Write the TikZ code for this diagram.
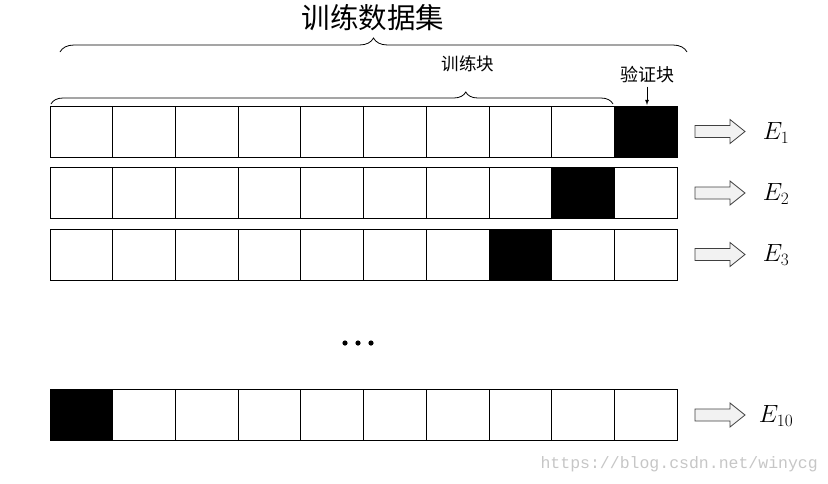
\documentclass[tikz,border=0pt]{standalone}
\usepackage{fontspec}
\usepackage{amsmath}
\usepackage{tikz}
\usetikzlibrary{decorations.pathreplacing}
\newfontfamily\cjk{Noto Sans CJK SC}
\newfontfamily\wmfont{Liberation Mono}

\tikzset{
  cell/.style={draw,line width=0.8pt,minimum width=62.7pt,minimum height=51pt,inner sep=0pt},
  test/.style={cell,fill=black},
  lab/.style={inner sep=0pt,font=\cjk},
  elab/.style={inner sep=0pt,font=\fontsize{25}{30}\selectfont},
  blockarr/.pic={
    \draw[fill=gray!10,draw=gray!50!black,line width=0.8pt]
      (0,-6) -- (35,-6) -- (35,-12) -- (50,0) -- (35,12) -- (35,6) -- (0,6) -- cycle;}
}

\begin{document}
\begin{tikzpicture}
  [x=1pt,y=1pt]
  \useasboundingbox (0,0) rectangle (828,-483);

  % the four folds, ten blocks each
  \foreach \r/\y/\t in {1/131.5/10, 2/193/9, 3/254.5/8, 4/415/1}{
    \foreach \i in {1,...,10}{
      \ifnum\i=\t
        \node[test] (c\r-\i) at ({50+31.35+62.7*(\i-1)},-\y) {};
      \else
        \node[cell] (c\r-\i) at ({50+31.35+62.7*(\i-1)},-\y) {};
      \fi
    }
    \pic at (695,-\y) {blockarr};
  }

  % labels on the right
  \node[elab] (e1) at (776,-133) {$E_1$};
  \node[elab] (e2) at (776,-194) {$E_2$};
  \node[elab] (e3) at (776,-255) {$E_3$};
  \node[elab] (e10) at (776,-416) {$E_{10}$};

  % braces and titles
  \draw[decorate,decoration={brace,amplitude=14pt},line width=0.8pt] (60,-52) -- (687,-52);
  \node[lab,font=\cjk\fontsize{28.5}{32}\selectfont] (all) at (373,-18) {训练数据集};
  \draw[decorate,decoration={brace,amplitude=12pt,aspect=0.738},line width=0.8pt] (51,-104) -- (613,-104);
  \node[lab,font=\cjk\fontsize{17.5}{20}\selectfont] (train) at (468,-64) {训练块};
  \node[lab,font=\cjk\fontsize{18}{20}\selectfont] (val) at (647,-75) {验证块};
  \coordinate (vtip) at (647,-105);
  \draw[-latex,line width=0.8pt] (val.south) ++(0,-3) -- (vtip);

  % dots
  \fill (345,-343) circle (2.6);
  \fill (358,-343) circle (2.6);
  \fill (371,-343) circle (2.6);

  \node[inner sep=0pt,anchor=east,text=gray!45,font=\wmfont\fontsize{16.5}{18}\selectfont] (wm) at (818,-464) {https://blog.csdn.net/winycg};
\end{tikzpicture}
\end{document}
